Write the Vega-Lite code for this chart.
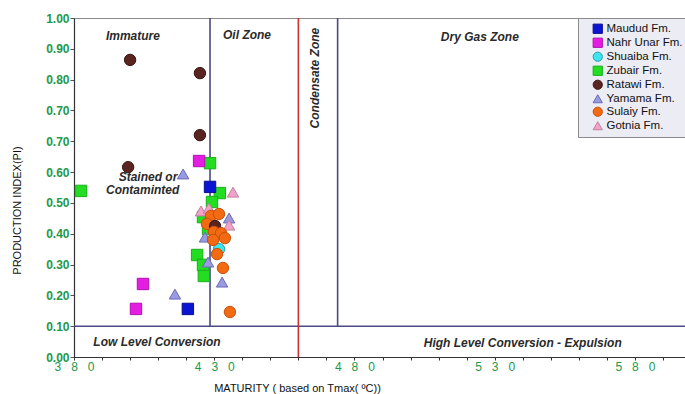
{
  "$schema": "https://vega.github.io/schema/vega-lite/v6.json",
  "width": 617,
  "height": 339,
  "autosize": {"type": "none"},
  "padding": {"left": 74, "top": 18, "right": 0, "bottom": 37},
  "background": "white",
  "config": {
    "view": {"stroke": "#8a8a8a", "strokeWidth": 1},
    "font": "Liberation Sans",
    "axis": {"labelOverlap": false, "labelFlush": false, "grid": false, "tickCount": 60}
  },
  "datasets": {
    "points": [
      {"formation": "Ratawi Fm.", "tmax": 400.0, "pi": 0.864},
      {"formation": "Ratawi Fm.", "tmax": 424.9, "pi": 0.821},
      {"formation": "Ratawi Fm.", "tmax": 424.9, "pi": 0.71},
      {"formation": "Ratawi Fm.", "tmax": 399.3, "pi": 0.616},
      {"formation": "Zubair Fm.", "tmax": 382.5, "pi": 0.539},
      {"formation": "Zubair Fm.", "tmax": 428.5, "pi": 0.629},
      {"formation": "Zubair Fm.", "tmax": 432.0, "pi": 0.532},
      {"formation": "Zubair Fm.", "tmax": 429.2, "pi": 0.503},
      {"formation": "Zubair Fm.", "tmax": 426.0, "pi": 0.454},
      {"formation": "Zubair Fm.", "tmax": 427.8, "pi": 0.415},
      {"formation": "Zubair Fm.", "tmax": 423.9, "pi": 0.331},
      {"formation": "Zubair Fm.", "tmax": 426.0, "pi": 0.299},
      {"formation": "Zubair Fm.", "tmax": 426.3, "pi": 0.263},
      {"formation": "Maudud Fm.", "tmax": 428.5, "pi": 0.552},
      {"formation": "Maudud Fm.", "tmax": 420.6, "pi": 0.156},
      {"formation": "Nahr Unar Fm.", "tmax": 424.6, "pi": 0.636},
      {"formation": "Nahr Unar Fm.", "tmax": 404.6, "pi": 0.237},
      {"formation": "Nahr Unar Fm.", "tmax": 402.1, "pi": 0.156},
      {"formation": "Yamama Fm.", "tmax": 418.9, "pi": 0.594},
      {"formation": "Yamama Fm.", "tmax": 435.3, "pi": 0.451},
      {"formation": "Yamama Fm.", "tmax": 426.7, "pi": 0.389},
      {"formation": "Yamama Fm.", "tmax": 427.8, "pi": 0.308},
      {"formation": "Yamama Fm.", "tmax": 432.8, "pi": 0.243},
      {"formation": "Yamama Fm.", "tmax": 416.0, "pi": 0.204},
      {"formation": "Gotnia Fm.", "tmax": 436.7, "pi": 0.535},
      {"formation": "Gotnia Fm.", "tmax": 425.3, "pi": 0.474},
      {"formation": "Gotnia Fm.", "tmax": 428.1, "pi": 0.483},
      {"formation": "Gotnia Fm.", "tmax": 435.3, "pi": 0.428},
      {"formation": "Shuaiba Fm.", "tmax": 431.7, "pi": 0.35},
      {"formation": "Sulaiy Fm.", "tmax": 428.8, "pi": 0.458},
      {"formation": "Sulaiy Fm.", "tmax": 431.7, "pi": 0.464},
      {"formation": "Sulaiy Fm.", "tmax": 427.4, "pi": 0.432},
      {"formation": "Ratawi Fm.", "tmax": 430.3, "pi": 0.425},
      {"formation": "Sulaiy Fm.", "tmax": 429.9, "pi": 0.406},
      {"formation": "Sulaiy Fm.", "tmax": 432.4, "pi": 0.402},
      {"formation": "Sulaiy Fm.", "tmax": 433.8, "pi": 0.386},
      {"formation": "Sulaiy Fm.", "tmax": 429.6, "pi": 0.38},
      {"formation": "Sulaiy Fm.", "tmax": 431.0, "pi": 0.334},
      {"formation": "Sulaiy Fm.", "tmax": 433.1, "pi": 0.289},
      {"formation": "Sulaiy Fm.", "tmax": 435.6, "pi": 0.146}
    ],
    "vlines": [
      {"tmax": 428.5, "y0": 0.1, "y1": 1.0, "kind": "zone"},
      {"tmax": 474, "y0": 0.1, "y1": 1.0, "kind": "zone"},
      {"tmax": 460, "y0": 0.0, "y1": 1.0, "kind": "red"}
    ],
    "hlines": [
      {"x0": 380, "x1": 600, "pi": 0.1}
    ],
    "labels": [
      {"text": "Immature", "tmax": 401, "pi": 0.941, "angle": 0},
      {"text": "Oil Zone", "tmax": 441.7, "pi": 0.945, "angle": 0},
      {"text": "Dry Gas Zone", "tmax": 524.7, "pi": 0.938, "angle": 0},
      {"text": "Stained or", "tmax": 406.4, "pi": 0.584, "angle": 0},
      {"text": "Contaminted", "tmax": 404.5, "pi": 0.542, "angle": 0},
      {"text": "Low Level Conversion", "tmax": 409.6, "pi": 0.049, "angle": 0},
      {"text": "High Level Conversion - Expulsion", "tmax": 540, "pi": 0.045, "angle": 0},
      {"text": "Condensate Zone", "tmax": 465.9, "pi": 0.805, "angle": 270}
    ]
  },
  "encoding": {
    "x": {
      "type": "quantitative",
      "scale": {"domain": [380, 600], "nice": false, "zero": false}
    },
    "y": {
      "type": "quantitative",
      "scale": {"domain": [0, 0.7, 0.8, 1.0], "range": [339, 123.3, 61.6, 0], "nice": false, "zero": false}
    }
  },
  "layer": [
    {
      "data": {"name": "hlines"},
      "mark": {"type": "rule", "color": "#4a4a86", "strokeWidth": 1.6},
      "encoding": {
        "x": {"field": "x0", "type": "quantitative", "axis": {
          "title": "MATURITY ( based on Tmax( ºC))",
          "titleFont": "Liberation Sans", "titleFontSize": 11, "titleFontWeight": "normal", "titleColor": "#111",
          "titleX": 223, "titleY": 31, "titleAnchor": "middle", "titleAlign": "center", "titleBaseline": "middle",
          "values": [380,390,400,410,420,430,440,450,460,470,480,490,500,510,520,530,540,550,560,570,580,590],
          "tickCount": 60,
          "labelExpr": "(datum.value - 380) % 50 == 0 ? join(split(toString(datum.value), ''), '\u00a0\u00a0\u00a0') : ''",
          "labelColor": "#22994a", "labelFontSize": 12, "labelFont": "Liberation Sans", "labelPadding": 1,
          "labelOverlap": false, "labelFlush": false,
          "domainColor": "#333", "domainWidth": 1.2, "tickColor": "#333", "tickSize": 3, "grid": false
        }},
        "x2": {"field": "x1"},
        "y": {"field": "pi", "type": "quantitative", "axis": {
          "title": "PRODUCTION INDEX(PI)",
          "titleFont": "Liberation Sans", "titleFontSize": 11, "titleFontWeight": "normal", "titleColor": "#111",
          "titleX": -57, "titleY": 192, "titleAnchor": "middle", "titleAlign": "center", "titleBaseline": "middle", "titleAngle": 270,
          "values": [0, 0.1, 0.2, 0.3, 0.4, 0.5, 0.6, 0.7, 0.75, 0.8, 0.9, 1.0],
          "tickCount": 60,
          "labelExpr": "datum.value == 0.75 ? '0.70' : format(datum.value, '.2f')",
          "labelColor": "#22994a", "labelFontSize": 12, "labelFontWeight": "bold", "labelFont": "Liberation Sans", "labelPadding": 1,
          "labelOverlap": false, "labelFlush": false,
          "domainColor": "#333", "domainWidth": 1.2, "tickColor": "#555", "tickSize": 4, "grid": false
        }}
      }
    },
    {
      "data": {"name": "vlines"},
      "mark": {"type": "rule", "strokeWidth": 1.6},
      "encoding": {
        "x": {"field": "tmax", "type": "quantitative"},
        "y": {"field": "y0", "type": "quantitative"},
        "y2": {"field": "y1"},
        "color": {"field": "kind", "type": "nominal", "scale": {"domain": ["zone", "red"], "range": ["#4a4a86", "#cc3333"]}, "legend": null}
      }
    },
    {
      "data": {"name": "labels"},
      "mark": {"type": "text", "font": "Liberation Sans", "fontSize": 12, "fontStyle": "italic", "fontWeight": "bold", "color": "#2a2a2a", "align": "center", "baseline": "middle"},
      "encoding": {
        "x": {"field": "tmax", "type": "quantitative"},
        "y": {"field": "pi", "type": "quantitative"},
        "text": {"field": "text"},
        "angle": {"field": "angle", "type": "quantitative", "scale": null}
      }
    },
    {
      "data": {"name": "points"},
      "mark": {"type": "point", "filled": true, "opacity": 1, "size": 130, "strokeWidth": 1},
      "encoding": {
        "x": {"field": "tmax", "type": "quantitative"},
        "y": {"field": "pi", "type": "quantitative"},
        "fill": {"field": "formation", "type": "nominal",
          "scale": {"domain": ["Maudud Fm.", "Nahr Unar Fm.", "Shuaiba Fm.", "Zubair Fm.", "Ratawi Fm.", "Yamama Fm.", "Sulaiy Fm.", "Gotnia Fm."],
                    "range": ["#0a14d2", "#e41ee0", "#3ce6ec", "#22dd22", "#5a2520", "#9a9ae0", "#f26a12", "#f2a2c8"]},
          "legend": {
            "title": null, "orient": "none", "legendX": 504, "legendY": 0,
            "fillColor": "#ececf4", "strokeColor": "#8a8a8a", "padding": 5,
            "labelFont": "Liberation Sans", "labelFontSize": 11.5, "labelColor": "#111", "labelLimit": 90,
            "symbolSize": 85, "symbolOffset": 9, "rowPadding": 0, "labelOffset": 3, "symbolStrokeWidth": 1
          }
        },
        "stroke": {"field": "formation", "type": "nominal",
          "scale": {"domain": ["Maudud Fm.", "Nahr Unar Fm.", "Shuaiba Fm.", "Zubair Fm.", "Ratawi Fm.", "Yamama Fm.", "Sulaiy Fm.", "Gotnia Fm."],
                    "range": ["#0a0a90", "#b010b0", "#20a0b0", "#18b018", "#3a1510", "#6a6ab8", "#c8500a", "#c080a0"]}
        },
        "shape": {"field": "formation", "type": "nominal",
          "scale": {"domain": ["Maudud Fm.", "Nahr Unar Fm.", "Shuaiba Fm.", "Zubair Fm.", "Ratawi Fm.", "Yamama Fm.", "Sulaiy Fm.", "Gotnia Fm."],
                    "range": ["square", "square", "circle", "square", "circle", "triangle-up", "circle", "triangle-up"]}
        }
      }
    }
  ]
}
